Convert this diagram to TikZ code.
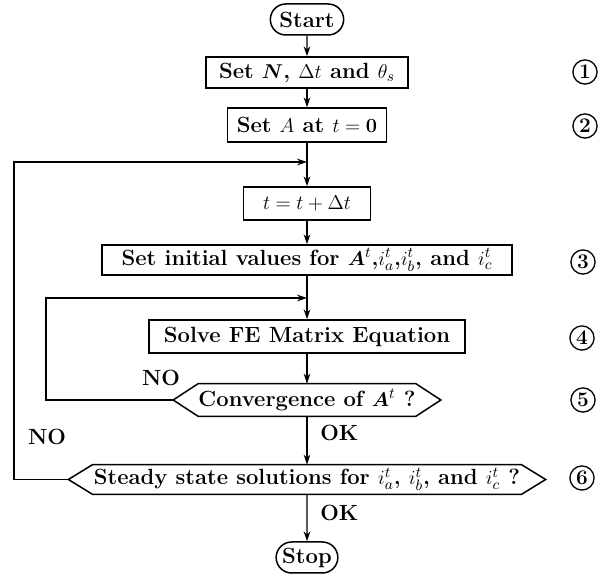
\documentclass[tikz,border=0pt]{standalone}
\usepackage{amsmath,bm}
\usetikzlibrary{arrows.meta,shapes.misc}
\begin{document}
\begin{tikzpicture}[x=0.6pt,y=-0.6pt,
  every node/.style={font=\fontsize{13.2}{15}\selectfont\bfseries},
  box/.style={draw,line width=0.9pt,rectangle,inner sep=0pt},
  term/.style={draw,line width=0.9pt,rounded rectangle,inner sep=0pt},
  hexa/.style={inner sep=0pt},
  num/.style={draw,circle,line width=0.8pt,inner sep=0pt,minimum size=14.5pt,font=\fontsize{12.5}{12.5}\selectfont\bfseries},
  lbl/.style={inner sep=0pt},
  arr/.style={line width=0.7pt,-{Stealth[length=6pt,width=4pt]}}]
\useasboundingbox (0,0) rectangle (605,575);
\node[term,minimum width=44pt,minimum height=18.6pt] (start) at (307,19.5) {Start};
\node[box,minimum width=121.2pt,minimum height=18.6pt] (setN) at (307,72.5) {Set $\bm{N}$, $\Delta t$ and $\theta_s$};
\node[box,minimum width=95.4pt,minimum height=20.4pt] (setA) at (307,125) {Set $A$ at $t=\mathbf{0}$};
\node[box,minimum width=76.2pt,minimum height=19.8pt] (tb) at (307,203.5) {$t=t+\Delta t$};
\node[box,minimum width=246pt,minimum height=18pt] (init) at (307,260) {Set initial values for $\bm{A}^t$,$i_a^t$,$i_b^t$, and $i_c^t$};
\node[box,minimum width=189.6pt,minimum height=19.8pt] (solve) at (307,336.5) {Solve FE Matrix Equation};
\node[hexa,minimum width=126pt,minimum height=19.2pt] (conv) at (307,400) {Convergence of $\bm{A}^t$ ?};
\draw[line width=0.9pt] (conv.north west) -- (conv.north east) -- ([xshift=15pt]conv.east) -- (conv.south east) -- (conv.south west) -- ([xshift=-15pt]conv.west) -- cycle;
\node[hexa,minimum width=257pt,minimum height=17.4pt] (steady) at (307,479.5) {Steady state solutions for $i_a^t$, $i_b^t$, and $i_c^t$ ?};
\draw[line width=0.9pt] (steady.north west) -- (steady.north east) -- ([xshift=14.5pt]steady.east) -- (steady.south east) -- (steady.south west) -- ([xshift=-14.5pt]steady.west) -- cycle;
\node[term,minimum width=37pt,minimum height=18.6pt] (stop) at (307,557.5) {Stop};
\coordinate (convL) at ([xshift=-15pt]conv.west);
\coordinate (steadyL) at ([xshift=-14.5pt]steady.west);
\coordinate (c1) at (46,298);
\coordinate (j1) at (307,298);
\coordinate (c2) at (14,162);
\coordinate (j2) at (307,162);
\draw[arr] (start) -- (setN);
\draw[arr] (setN) -- (setA);
\draw[arr] (setA) -- (tb);
\draw[arr] (tb) -- (init);
\draw[arr] (init) -- (solve);
\draw[arr] (solve) -- (conv);
\draw[arr] (conv) -- (steady);
\draw[arr] (steady) -- (stop);
\draw[arr] (convL) -| (c1) -- (j1);
\draw[arr] (steadyL) -| (c2) -- (j2);
\node[lbl] (no1) at (161,378) {NO};
\node[lbl] (no2) at (47,437) {NO};
\node[lbl,anchor=west] (ok1) at (320,433) {OK};
\node[lbl,anchor=west] (ok2) at (320,513) {OK};
\node[num] (n1) at (585,72) {1};
\node[num] (n2) at (585,126) {2};
\node[num] (n3) at (583,262) {3};
\node[num] (n4) at (582,338) {4};
\node[num] (n5) at (583,400) {5};
\node[num] (n6) at (582,478) {6};
\end{tikzpicture}
\end{document}
